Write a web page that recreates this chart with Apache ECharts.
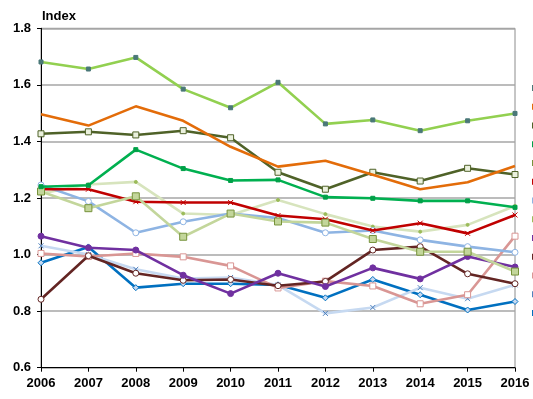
<!DOCTYPE html>
<html>
<head>
<meta charset="utf-8">
<script src="https://cdn.jsdelivr.net/npm/echarts@6/dist/echarts.min.js"></script>
<style>
html,body{margin:0;padding:0;background:#fff;}
#c{width:533px;height:399px;}
</style>
</head>
<body>
<div id="c"></div>
<script>
var years = ['2006','2007','2008','2009','2010','2011','2012','2013','2014','2015','2016'];
var yTicks = [0.6, 0.8, 1.0, 1.2, 1.4, 1.6, 1.8];

var s1  = [1.681, 1.656, 1.697, 1.585, 1.519, 1.609, 1.462, 1.476, 1.438, 1.473, 1.499];
var s2  = [1.496, 1.456, 1.524, 1.473, 1.381, 1.311, 1.332, 1.282, 1.231, 1.256, 1.313];
var s3  = [1.427, 1.434, 1.423, 1.438, 1.413, 1.291, 1.231, 1.291, 1.260, 1.305, 1.283];
var s4  = [1.240, 1.245, 1.371, 1.304, 1.262, 1.264, 1.203, 1.199, 1.190, 1.190, 1.167];
var s5  = [1.223, 1.164, 1.206, 1.063, 1.145, 1.117, 1.113, 1.055, 1.010, 1.010, 0.940];
var s6  = [1.231, 1.231, 1.187, 1.184, 1.184, 1.138, 1.125, 1.085, 1.111, 1.075, 1.140];
var s7  = [1.246, 1.188, 1.077, 1.116, 1.145, 1.129, 1.077, 1.085, 1.052, 1.028, 1.008];
var s8  = [1.216, 1.248, 1.257, 1.145, 1.140, 1.193, 1.143, 1.099, 1.081, 1.105, 1.172];
var s9  = [1.065, 1.024, 1.016, 0.927, 0.862, 0.934, 0.887, 0.953, 0.914, 0.993, 0.956];
var s10 = [0.842, 0.996, 0.934, 0.909, 0.912, 0.890, 0.905, 1.016, 1.028, 0.932, 0.897];
var s11 = [1.004, 0.993, 1.004, 0.992, 0.960, 0.882, 0.906, 0.889, 0.826, 0.858, 1.065];
var s12 = [1.031, 1.000, 0.948, 0.915, 0.919, 0.892, 0.792, 0.813, 0.883, 0.844, 0.893];
var s13 = [0.971, 1.027, 0.883, 0.897, 0.897, 0.893, 0.847, 0.912, 0.858, 0.804, 0.834];

var names = ['Serie 1','Serie 2','Serie 3','Serie 4','Serie 5','Serie 6','Serie 7','Serie 8','Serie 9','Serie 10','Serie 11','Serie 12','Serie 13'];
var values = [s1,s2,s3,s4,s5,s6,s7,s8,s9,s10,s11,s12,s13];
var colors = ['#92d050','#e36c09','#4f6228','#00b050','#c3d69b','#c00000','#8eb4e3','#d7e4bd','#7030a0','#632523','#d99694','#c6d9f1','#0070c0'];
var XPATH = 'path://M0,0L10,10M10,0L0,10';
var marks = [
  {symbol:'rect', size:4, fill:'#4a7878', border:'#4a7878'},
  {symbol:'none'},
  {symbol:'rect', size:6, fill:'#ebf1de', border:'#4f6228'},
  {symbol:'rect', size:4, fill:'#00a048', border:'#00a048'},
  {symbol:'rect', size:7, fill:'#c3d69b', border:'#77933c'},
  {symbol:XPATH, size:5, fill:'#c00000', border:'#c00000'},
  {symbol:'circle', size:6, fill:'#ffffff', border:'#8eb4e3'},
  {symbol:'circle', size:3, fill:'#9bbb59', border:'#9bbb59'},
  {symbol:'circle', size:6, fill:'#7030a0', border:'#7030a0'},
  {symbol:'circle', size:6, fill:'#ffffff', border:'#632523'},
  {symbol:'rect', size:6, fill:'#ffffff', border:'#d99694'},
  {symbol:XPATH, size:5, fill:'#4f81bd', border:'#4f81bd'},
  {symbol:'diamond', size:6, fill:'#c6d9f1', border:'#0070c0'}
];

var series = values.map(function(v,i){
  var m = marks[i];
  return {
    name: names[i], type:'line', data: v,
    symbol: m.symbol, symbolSize: m.size || 4, showSymbol: m.symbol !== 'none',
    lineStyle:{color: colors[i], width: 2.6},
    itemStyle:{color: m.fill || colors[i], borderColor: m.border || colors[i], borderWidth: 1},
    emphasis:{disabled:true}, animation:false, z: 20 - i
  };
});

var chart = echarts.init(document.getElementById('c'), null, {renderer:'canvas'});
chart.setOption({
  animation:false,
  color: colors,
  title:{text:'Index', left:37, top:5, textStyle:{fontFamily:'Liberation Sans, Arial', fontSize:13, fontWeight:'bold', color:'#000'}},
  legend:{
    orient:'vertical', left:527, top:76, itemWidth:14, itemHeight:4, itemGap:4.75,
    icon:'rect',
    data: names.map(function(n,i){return {name:n, itemStyle:{color:colors[i]}};}),
    textStyle:{fontSize:11, lineHeight:14, fontFamily:'Liberation Sans, Arial', color:'#000'}
  },
  grid:{left:41, right:18, top:28.3, bottom:31.3, show:true, borderColor:'#8c8c8c', borderWidth:1},
  xAxis:{
    type:'category', data: years, boundaryGap:false,
    axisLine:{lineStyle:{color:'#000', width:1}},
    axisTick:{show:true, length:4, lineStyle:{color:'#000'}},
    axisLabel:{fontFamily:'Liberation Sans, Arial', fontSize:13, fontWeight:'bold', color:'#000', margin:9},
    splitLine:{show:false}
  },
  yAxis:{
    type:'value', min: yTicks[0], max: yTicks[yTicks.length-1], interval:0.2,
    axisLine:{show:true, lineStyle:{color:'#000', width:1}},
    axisTick:{show:true, length:4, lineStyle:{color:'#000'}},
    axisLabel:{fontFamily:'Liberation Sans, Arial', fontSize:13, fontWeight:'bold', color:'#000', margin:10,
      formatter:function(v){return v.toFixed(1);}},
    splitLine:{show:true, lineStyle:{color:'#a6a6a6', width:1.5}}
  },
  series: series
});
</script>
</body>
</html>
